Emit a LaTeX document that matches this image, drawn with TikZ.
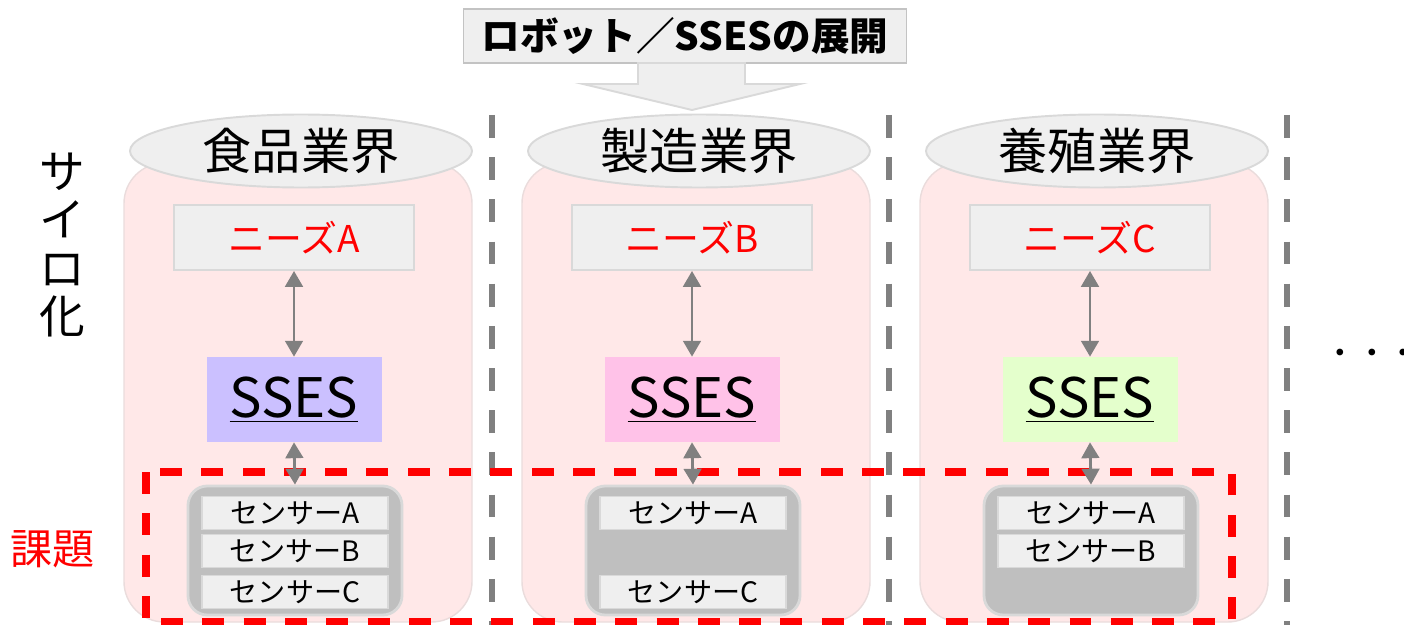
\documentclass[tikz,border=0pt]{standalone}
\usepackage{fontspec}
\usetikzlibrary{arrows.meta, shapes.geometric}
\newfontfamily\jp{Noto Sans CJK JP}
\newcommand{\pxu}{0.02cm}
\newcommand{\setfs}[1]{\fontsize{#1}{#1}\selectfont}
\definecolor{colbg}{HTML}{FFE8E8}
\definecolor{colline}{HTML}{EADCDC}
\definecolor{boxbg}{HTML}{EFEFEF}
\definecolor{boxline}{HTML}{D9D9D9}
\definecolor{grpbg}{HTML}{BFBFBF}
\definecolor{linkgray}{HTML}{808080}
\definecolor{ssesA}{HTML}{CBC0FF}
\definecolor{ssesB}{HTML}{FFC2E8}
\definecolor{ssesC}{HTML}{E4FFCC}
\definecolor{issuered}{HTML}{FF0000}

\begin{document}
\begin{tikzpicture}[x=0.02cm, y=-0.02cm,
  col/.style={rectangle, rounded corners=23pt, fill=colbg, draw=colline, line width=0.8pt,
    minimum width=348*\pxu, minimum height=459*\pxu},
  ind/.style={ellipse, fill=boxbg, draw=boxline, line width=1.1pt, inner sep=0pt,
    minimum width=342*\pxu, minimum height=73*\pxu, font=\jp\setfs{28}},
  need/.style={rectangle, fill=boxbg, draw=boxline, line width=1.1pt, inner sep=0pt,
    minimum width=240*\pxu, minimum height=65*\pxu, text=issuered, font=\jp\setfs{21}},
  sses/.style={rectangle, inner sep=0pt, minimum width=175*\pxu, minimum height=85*\pxu,
    font=\jp\setfs{31}},
  grp/.style={rectangle, rounded corners=11pt, fill=grpbg, draw=boxline, line width=1.6pt,
    minimum width=214*\pxu, minimum height=129*\pxu},
  sensor/.style={rectangle, fill=boxbg, draw=boxline, line width=1.1pt, inner sep=0pt,
    minimum width=186*\pxu, minimum height=33*\pxu, font=\jp\setfs{16}},
  dbl/.style={{Triangle[width=10pt,length=9pt]}-{Triangle[width=10pt,length=9pt]},
    draw=linkgray, line width=1.6pt},
  sepline/.style={draw=linkgray, line width=3pt, dash pattern=on 13pt off 11pt},
  issue/.style={draw=issuered, line width=4pt, dash pattern=on 12.5pt off 11pt}
]
\useasboundingbox (0,0) rectangle (1404,625);

\foreach \c/\x/\ind/\nd/\clr in {1/294/食品業界/A/ssesA, 2/692/製造業界/B/ssesB, 3/1090/養殖業界/C/ssesC} {
  \node at (\x+4,392.5) [name=col\c, col] {};
  \node at (\x+7,151) [name=ind\c, ind] {\ind};
  \node at (\x,237.5) [name=need\c, need] {ニーズ\nd};
  \node at (\x,399.5) [name=sses\c, sses, fill=\clr] {\underline{SSES}};
  \node at (\x+1,550.5) [name=grp\c, grp] {};
}

\draw [sepline] (492,115) -- (492,625);
\draw [sepline] (889,115) -- (889,625);
\draw [sepline] (1287,115) -- (1287,625);

\node at (295,513) [name=sa1, sensor] {センサーA};
\node at (295,551) [name=sb1, sensor] {センサーB};
\node at (295,592) [name=sc1, sensor] {センサーC};
\node at (693,513) [name=sa2, sensor] {センサーA};
\node at (693,592) [name=sc2, sensor] {センサーC};
\node at (1091,513) [name=sa3, sensor] {センサーA};
\node at (1091,551) [name=sb3, sensor] {センサーB};

\draw [issue] (146,472) rectangle (1232,622);

\foreach \c in {1,2,3} {
  \draw [dbl] (need\c.south) -- (sses\c.north);
  \draw [dbl] (sses\c.south) -- (grp\c.north);
}

\node at (685,36) [name=title, rectangle, fill=boxbg, draw=boxline!90!black, line width=1.1pt,
  minimum width=443*\pxu, minimum height=54*\pxu, inner sep=0pt, font=\jp\bfseries\setfs{22}]
  {ロボット／SSESの展開};
\draw [fill=boxbg, draw=boxline, line width=1.1pt]
  (638,63) -- (638,84) -- (583,84) -- (692,110) -- (800,84) -- (745,84) -- (745,63) -- cycle;

\node at (62,245) [name=silo, align=center, font=\jp\fontsize{26}{27.5}\selectfont] {サ\\イ\\ロ\\化};
\node at (53,549) [name=kadai, text=issuered, font=\jp\setfs{24}] {課題};
\node at (1372,357) [name=more, font=\jp\setfs{18}] {・・・};
\end{tikzpicture}
\end{document}
